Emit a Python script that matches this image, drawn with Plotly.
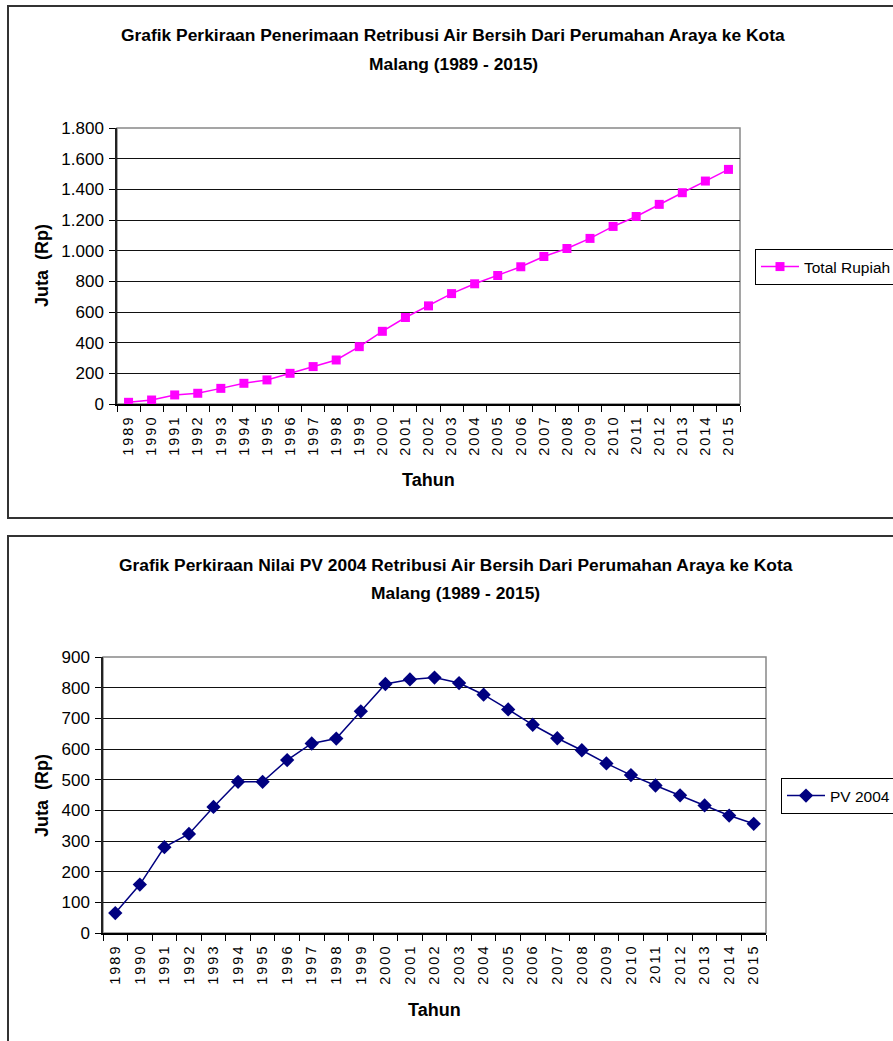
import plotly.graph_objects as go

# Data
years = [str(y) for y in range(1989, 2016)]
total_rupiah = [11, 26, 59, 70, 102, 135, 157, 200, 244, 287, 374, 474, 564, 640,
                720, 784, 838, 895, 962, 1014, 1080, 1158, 1223, 1302, 1378, 1454, 1530]
pv_2004 = [65, 158, 280, 323, 411, 493, 493, 564, 618, 634, 723, 812, 827, 833,
           815, 777, 729, 679, 635, 596, 553, 515, 481, 449, 416, 383, 356]

W, H = 893, 1041


def px(x):
    return x / W


def py(y):
    return 1 - y / H


FONT = "Liberation Sans, Arial, sans-serif"

fig = go.Figure()

fig.add_trace(go.Scatter(
    x=years, y=total_rupiah, name="Total Rupiah", mode="lines+markers",
    line=dict(color="#FF00FF", width=1.5),
    marker=dict(symbol="square", size=9, color="#FF00FF"),
    xaxis="x", yaxis="y", legend="legend",
))
fig.add_trace(go.Scatter(
    x=years, y=pv_2004, name="PV 2004", mode="lines+markers",
    line=dict(color="#000080", width=1.5),
    marker=dict(symbol="diamond", size=11, color="#000080"),
    xaxis="x2", yaxis="y2", legend="legend2",
))

xcommon = dict(
    type="category", range=[-0.5, len(years) - 0.5], tickson="boundaries",
    ticks="outside", ticklen=6, tickcolor="#000", tickwidth=1,
    tickangle=-90, tickfont=dict(family=FONT, size=14.5, color="#000"),
    ticklabelstandoff=4,
    showline=True, linecolor="#000", linewidth=1.5, showgrid=False,
    zeroline=False, fixedrange=True,
)
ycommon = dict(
    ticks="outside", ticklen=6, tickcolor="#000", tickwidth=1,
    tickfont=dict(family=FONT, size=17, color="#000"),
    ticklabelstandoff=2,
    showline=True, linecolor="#222", linewidth=1.5,
    showgrid=True, gridcolor="#111", gridwidth=1,
    zeroline=False, tickformat=",d", fixedrange=True,
)

legend_common = dict(
    xanchor="left", yanchor="top", itemwidth=38,
    bordercolor="#000", borderwidth=1, bgcolor="white",
    font=dict(family=FONT, size=15.5, color="#000"),
)

fig.update_layout(
    width=W, height=H, margin=dict(l=0, r=0, t=0, b=0, autoexpand=False),
    paper_bgcolor="white", plot_bgcolor="white",
    separators=",.",
    font=dict(family=FONT, color="#000"),
    xaxis=dict(domain=[px(117), px(740)], anchor="y", **xcommon),
    yaxis=dict(domain=[py(404), py(128)], anchor="x", range=[0, 1800], dtick=200, **ycommon),
    xaxis2=dict(domain=[px(103), px(766)], anchor="y2", **xcommon),
    yaxis2=dict(domain=[py(933), py(657)], anchor="x2", range=[0, 900], dtick=100, **ycommon),
    # inner half of the crossing category ticks on the lower chart
    xaxis3=dict(domain=[px(103), px(766)], anchor="y2", overlaying="x2",
                range=[-0.5, len(years) - 0.5],
                tickmode="array", tickvals=[i - 0.5 for i in range(len(years) + 1)],
                ticks="inside", ticklen=5, tickcolor="#000", tickwidth=1,
                showticklabels=False, showline=False, showgrid=False,
                zeroline=False, fixedrange=True),
    legend=dict(x=px(755), y=py(249), **legend_common),
    legend2=dict(x=px(781), y=py(778), **legend_common),
    showlegend=True,
)

# Outer chart frames
for y0, y1 in [(6, 518), (536, 1060)]:
    fig.add_shape(type="rect", xref="paper", yref="paper",
                  x0=px(8), x1=px(910), y0=py(y1), y1=py(y0),
                  line=dict(color="#333", width=2), layer="below")

# Plot-area borders
for xr, yr in [("x", "y"), ("x2", "y2")]:
    fig.add_shape(type="rect", xref=f"{xr} domain", yref=f"{yr} domain",
                  x0=0, x1=1, y0=0, y1=1,
                  line=dict(color="#888", width=1.5), layer="below")

titles = [
    ("Grafik Perkiraan Penerimaan Retribusi Air Bersih Dari Perumahan Araya ke Kota", 453, 35),
    ("Malang (1989 - 2015)", 453, 64),
    ("Grafik Perkiraan Nilai PV 2004 Retribusi Air Bersih Dari Perumahan Araya ke Kota", 456, 565),
    ("Malang (1989 - 2015)", 456, 593),
]
for text, x, y in titles:
    fig.add_annotation(text=f"<b>{text}</b>", x=px(x), y=py(y), xref="paper", yref="paper",
                       showarrow=False, xanchor="center", yanchor="middle",
                       font=dict(family=FONT, size=17.4, color="#000"))

# Axis titles
for x, y in [(42, 266), (42, 796)]:
    fig.add_annotation(text="<b>Juta\u00a0\u00a0(Rp)</b>", x=px(x), y=py(y), xref="paper", yref="paper",
                       showarrow=False, textangle=-90, xanchor="center", yanchor="middle",
                       font=dict(family=FONT, size=18, color="#000"))
for x, y in [(428, 480), (434, 1010)]:
    fig.add_annotation(text="<b>Tahun</b>", x=px(x), y=py(y), xref="paper", yref="paper",
                       showarrow=False, xanchor="center", yanchor="middle",
                       font=dict(family=FONT, size=18, color="#000"))

# Spaced-out year labels along the category axes
post = (
    "document.querySelectorAll('.xtick text, .x2tick text').forEach(function(t){"
    "t.style.letterSpacing='2px';});"
)
fig.write_html("out.html", post_script=post)
